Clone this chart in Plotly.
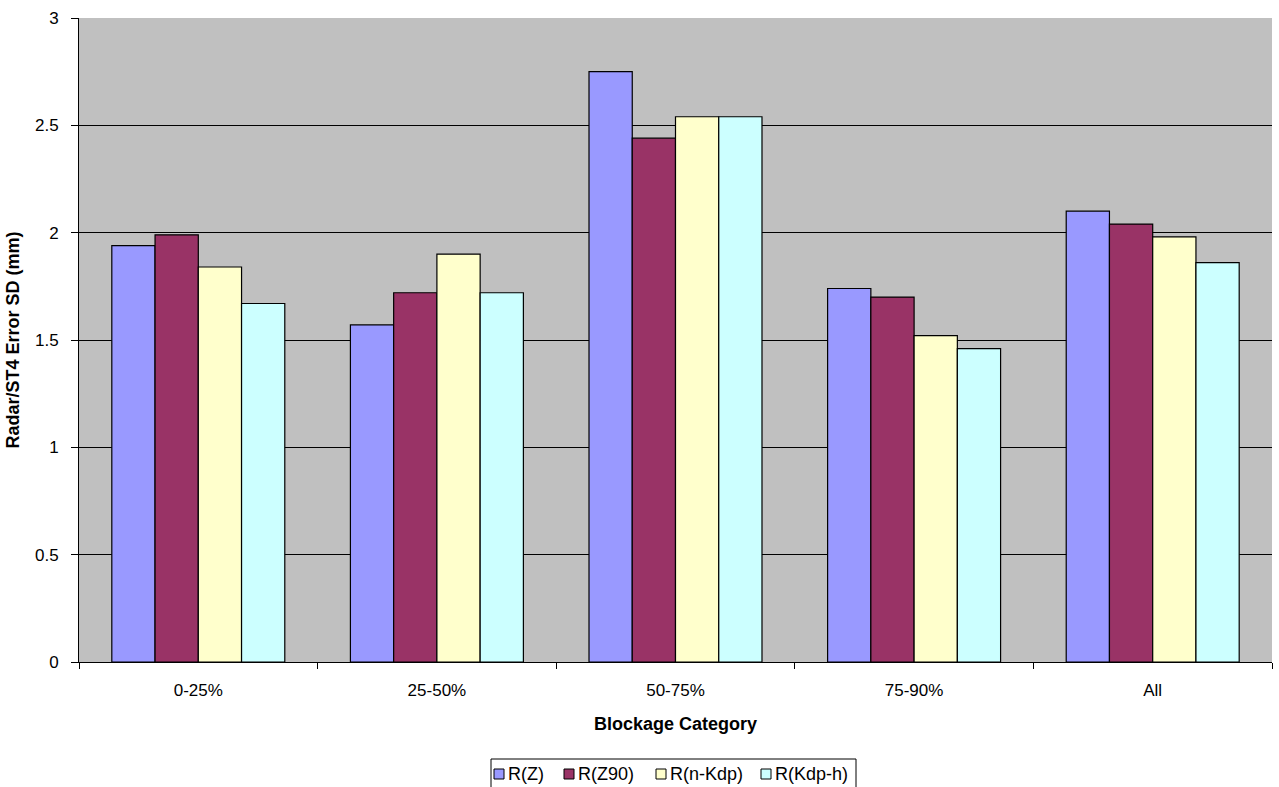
import plotly.graph_objects as go

categories = ["0-25%", "25-50%", "50-75%", "75-90%", "All"]
r_z = [1.94, 1.57, 2.75, 1.74, 2.10]
r_z90 = [1.99, 1.72, 2.44, 1.70, 2.04]
r_nkdp = [1.84, 1.90, 2.54, 1.52, 1.98]
r_kdph = [1.67, 1.72, 2.54, 1.46, 1.86]

series = [
    ("R(Z)", r_z, "#9999FF"),
    ("R(Z90)", r_z90, "#993366"),
    ("R(n-Kdp)", r_nkdp, "#FFFFCC"),
    ("R(Kdp-h)", r_kdph, "#CCFFFF"),
]

font = "Liberation Sans, Arial, sans-serif"
W, H = 1279, 787
ML, MR, MT, MB = 79, 7, 18, 125
PW, PH = W - ML - MR, H - MT - MB


def px(x):
    return (x - ML) / PW


def py(y):
    return (H - MB - y) / PH


fig = go.Figure()
for name, vals, color in series:
    fig.add_trace(go.Bar(
        x=categories, y=vals, name=name, showlegend=False,
        marker=dict(color=color, line=dict(color="#000000", width=1.2)),
    ))

# Boxed legend row under the axis title
shapes = [dict(type="rect", xref="paper", yref="paper",
               x0=px(491), x1=px(856), y0=py(788), y1=py(759),
               line=dict(color="#000000", width=1), fillcolor="white", layer="above")]
annotations = []
item_x = [494, 564, 656, 761]
for (name, _, color), x0 in zip(series, item_x):
    shapes.append(dict(type="rect", xref="paper", yref="paper",
                       x0=px(x0), x1=px(x0 + 10), y0=py(779), y1=py(769),
                       line=dict(color="#000000", width=1), fillcolor=color, layer="above"))
    annotations.append(dict(text=name, xref="paper", yref="paper",
                            x=px(x0 + 12), y=py(774), xanchor="left", yanchor="middle",
                            showarrow=False, font=dict(family=font, size=18, color="#000000")))

fig.update_layout(
    width=W, height=H,
    margin=dict(l=ML, r=MR, t=MT, b=MB, autoexpand=False),
    paper_bgcolor="white",
    plot_bgcolor="#C0C0C0",
    barmode="group",
    bargap=0.275,
    bargroupgap=0,
    font=dict(family=font, size=17, color="#000000"),
    shapes=shapes,
    annotations=annotations,
    xaxis=dict(
        title=dict(text="<b>Blockage Category</b>", font=dict(family=font, size=18), standoff=17),
        showline=True, linecolor="#000000", linewidth=1,
        ticks="outside", tickson="boundaries", ticklen=6, tickcolor="#000000",
        ticklabelstandoff=13,
        showgrid=False, tickfont=dict(family=font, size=17), automargin=False,
    ),
    yaxis=dict(
        title=dict(text="<b>Radar/ST4 Error SD (mm)</b>", font=dict(family=font, size=18), standoff=10),
        range=[0, 3], dtick=0.5, tickformat="~g",
        showline=True, linecolor="#000000", linewidth=1,
        ticks="outside", ticklen=7, tickcolor="#000000",
        ticklabelstandoff=9,
        showgrid=True, gridcolor="#000000", gridwidth=1,
        zeroline=False, tickfont=dict(family=font, size=17), automargin=False,
    ),
)

fig.write_html("out.html")
